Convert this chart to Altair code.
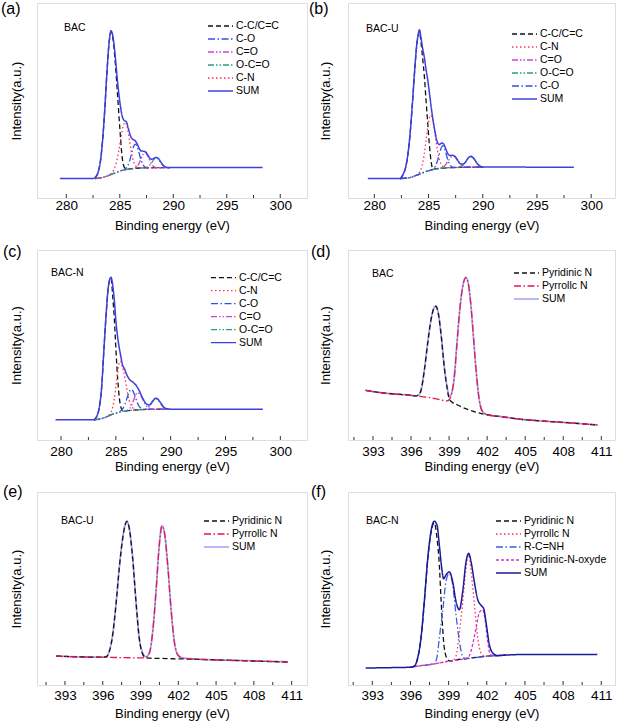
import altair as alt
import pandas as pd

FONT = "Liberation Sans"

# ---------------- (a) BAC, C 1s ----------------
A_SUM = [(279.4, 10.0), (282.5, 10.0), (282.8, 11.2), (283.0, 13.7), (283.2, 19.4), (283.4, 30.1), (283.6, 45.9),
         (283.8, 64.6), (284.0, 79.7), (284.18, 85.8), (284.4, 81.4), (284.6, 71.2), (284.8, 59.0), (285.0, 49.5),
         (285.2, 42.5), (285.4, 39.8), (285.6, 39.2), (285.8, 35.6), (286.0, 31.8), (286.2, 30.1), (286.4, 29.6),
         (286.6, 28.0), (286.8, 25.6), (287.0, 24.1), (287.2, 24.0), (287.4, 23.7), (287.6, 22.2), (287.8, 20.4),
         (288.0, 19.9), (288.2, 20.4), (288.4, 20.8), (288.6, 20.3), (288.8, 18.7), (289.0, 17.1), (289.2, 16.1),
         (289.4, 15.7), (289.7, 15.6), (298.35, 15.6)]
A_CC = [(282.7, 10.4), (283.0, 13.6), (283.2, 19.3), (283.4, 30.0), (283.6, 45.8), (283.8, 64.5), (284.0, 79.6),
        (284.18, 85.1), (284.4, 80.0), (284.6, 67.6), (284.8, 52.2), (285.0, 36.0), (285.2, 22.0), (285.4, 16.0),
        (285.6, 14.8), (285.9, 14.9), (286.4, 15.2), (287.0, 15.4), (288.0, 15.5), (289.0, 15.6), (289.7, 15.6)]
A_CO = [(282.7, 10.0), (283.4, 10.5), (284.2, 12.1), (285.0, 13.8), (285.37, 14.5), (285.55, 15.1), (285.73, 16.5),
        (285.91, 18.9), (286.09, 22.5), (286.27, 26.1), (286.45, 27.6), (286.63, 26.2), (286.81, 22.9),
        (286.99, 19.4), (287.17, 17.1), (287.35, 15.9), (287.53, 15.6), (288.5, 15.55), (289.7, 15.6)]
A_CDO = [(282.7, 10.0), (283.4, 10.5), (284.2, 12.1), (285.0, 13.8), (285.8, 14.8), (286.27, 15.2), (286.45, 15.5),
         (286.63, 16.4), (286.81, 17.9), (286.99, 20.2), (287.17, 22.4), (287.35, 23.3), (287.53, 22.4),
         (287.71, 20.3), (287.89, 18.1), (288.07, 16.6), (288.25, 15.85), (288.43, 15.6), (289.7, 15.6)]
A_OCO = [(282.7, 10.0), (283.4, 10.5), (284.2, 12.1), (285.0, 13.8), (285.8, 14.8), (286.6, 15.3), (287.32, 15.45),
         (287.5, 15.7), (287.68, 16.2), (287.86, 17.2), (288.04, 18.6), (288.22, 20.0), (288.4, 20.6),
         (288.58, 20.1), (288.76, 18.7), (288.94, 17.3), (289.12, 16.2), (289.3, 15.8), (289.48, 15.6), (289.7, 15.6)]
A_CN = [(282.7, 10.0), (283.4, 10.5), (283.8, 11.1), (284.1, 12.0), (284.4, 14.0), (284.7, 18.7), (284.9, 24.1),
        (285.1, 30.7), (285.3, 36.5), (285.5, 38.9), (285.7, 36.2), (285.9, 29.7), (286.1, 22.9), (286.3, 18.5),
        (286.5, 16.4), (286.7, 15.6), (287.5, 15.5), (288.5, 15.55), (289.7, 15.6)]

# ---------------- (b) BAC-U, C 1s ----------------
B_SUM = [(279.4, 10.0), (282.4, 10.0), (282.6, 11.6), (282.9, 16.1), (283.1, 22.7), (283.3, 33.1), (283.5, 47.6),
         (283.7, 63.8), (283.9, 78.0), (284.05, 84.0), (284.16, 86.3), (284.3, 82.3), (284.45, 76.9), (284.62, 71.9),
         (284.77, 65.8), (284.93, 60.4), (285.08, 54.0), (285.23, 47.2), (285.39, 40.8), (285.6, 33.9), (285.8, 28.8),
         (286.0, 27.4), (286.15, 28.0), (286.3, 28.2), (286.45, 27.1), (286.6, 25.0), (286.8, 22.5), (287.0, 21.8),
         (287.2, 21.9), (287.4, 21.5), (287.6, 20.2), (287.8, 18.4), (288.0, 17.4), (288.2, 17.4), (288.4, 18.4),
         (288.6, 20.1), (288.75, 21.0), (288.9, 21.4), (289.05, 21.0), (289.2, 20.1), (289.4, 18.4), (289.6, 17.0),
         (289.8, 16.2), (290.0, 15.9), (298.4, 15.8)]
B_CC = [(282.4, 10.0), (282.6, 11.5), (282.9, 16.0), (283.1, 22.6), (283.3, 33.0), (283.5, 47.5), (283.7, 63.7),
        (283.9, 77.6), (284.05, 83.5), (284.16, 85.3), (284.3, 80.0), (284.45, 72.0), (284.62, 62.0), (284.77, 50.0),
        (284.93, 38.0), (285.08, 27.0), (285.23, 19.0), (285.39, 15.0), (285.6, 14.9), (286.0, 15.2), (287.0, 15.55),
        (288.0, 15.7), (289.0, 15.8), (290.0, 15.8)]
B_CN = [(282.4, 10.0), (283.2, 10.4), (283.8, 11.3), (284.0, 12.2), (284.2, 13.5), (284.4, 16.5), (284.6, 22.4),
        (284.8, 30.7), (285.0, 38.9), (285.2, 42.5), (285.41, 39.5), (285.62, 31.9), (285.83, 24.2), (286.04, 19.0),
        (286.25, 16.5), (286.46, 15.7), (287.0, 15.55), (288.5, 15.75), (290.0, 15.8)]
B_CO = [(282.4, 10.0), (283.2, 10.4), (284.0, 11.9), (284.8, 13.6), (285.31, 14.6), (285.48, 15.2), (285.64, 16.4),
        (285.8, 18.7), (285.97, 22.1), (286.14, 25.3), (286.3, 26.8), (286.47, 25.5), (286.63, 22.4), (286.8, 19.2),
        (286.96, 17.1), (287.13, 16.05), (287.29, 15.7), (288.5, 15.75), (290.0, 15.8)]
B_CDO = [(282.4, 10.0), (283.2, 10.4), (284.0, 11.9), (284.8, 13.6), (285.6, 14.8), (285.99, 15.25), (286.2, 15.55),
         (286.41, 16.2), (286.62, 17.4), (286.83, 19.1), (287.04, 20.85), (287.25, 21.6), (287.46, 20.9),
         (287.67, 19.25), (287.88, 17.6), (288.09, 16.5), (288.3, 15.95), (288.51, 15.8), (290.0, 15.8)]
B_OCO = [(282.4, 10.0), (283.2, 10.4), (284.0, 11.9), (284.8, 13.6), (285.6, 14.8), (286.6, 15.45), (287.7, 15.7),
         (287.9, 15.95), (288.1, 16.45), (288.3, 17.5), (288.5, 19.0), (288.7, 20.6), (288.9, 21.2), (289.1, 20.6),
         (289.3, 19.1), (289.5, 17.55), (289.7, 16.55), (289.9, 16.05), (290.1, 15.85)]

# ---------------- (c) BAC-N, C 1s ----------------
C_SUM = [(279.5, 10.6), (283.0, 10.6), (283.1, 11.0), (283.3, 13.0), (283.5, 17.5), (283.7, 27.5), (283.9, 46.5),
         (284.1, 65.0), (284.3, 80.0), (284.45, 84.8), (284.56, 85.6), (284.71, 81.7), (284.86, 73.6), (285.02, 61.6),
         (285.17, 53.8), (285.32, 48.2), (285.47, 43.5), (285.6, 39.7), (285.8, 37.3), (286.0, 34.3), (286.23, 32.0),
         (286.54, 30.5), (286.84, 28.8), (287.14, 25.9), (287.45, 22.0), (287.75, 19.2), (288.05, 18.4),
         (288.36, 20.5), (288.65, 22.0), (288.95, 20.7), (289.12, 19.3), (289.35, 17.4), (289.57, 16.6),
         (289.8, 16.3), (290.1, 16.2), (298.4, 16.2)]
C_CC = [(283.0, 10.6), (283.1, 11.0), (283.3, 13.0), (283.5, 17.4), (283.7, 27.4), (283.9, 46.4), (284.1, 64.9),
        (284.3, 79.8), (284.45, 84.3), (284.56, 85.0), (284.71, 76.0), (284.86, 64.0), (285.02, 46.0), (285.17, 32.0),
        (285.32, 22.0), (285.47, 17.0), (285.62, 15.3), (285.8, 15.2), (286.3, 15.6), (287.2, 15.95), (288.0, 16.1),
        (289.0, 16.2), (289.8, 16.2)]
C_CN = [(283.0, 10.6), (283.5, 10.9), (283.9, 11.6), (284.3, 12.6), (284.5, 14.0), (284.71, 17.2), (284.86, 21.7),
        (285.02, 28.8), (285.17, 35.7), (285.32, 40.9), (285.41, 41.5), (285.6, 38.3), (285.8, 33.7), (286.0, 26.8),
        (286.23, 20.65), (286.54, 16.95), (286.84, 16.0), (287.2, 15.95), (288.0, 16.1), (289.0, 16.2), (289.8, 16.2)]
C_CO = [(283.0, 10.6), (283.9, 11.6), (284.7, 13.6), (285.26, 14.6), (285.45, 15.35), (285.64, 16.55), (285.83, 18.85),
        (286.02, 22.1), (286.21, 25.2), (286.4, 26.65), (286.59, 25.45), (286.78, 22.5), (286.97, 19.5),
        (287.16, 17.45), (287.35, 16.5), (287.54, 16.1), (288.5, 16.15), (289.8, 16.2)]
C_CDO = [(283.0, 10.6), (283.9, 11.6), (284.7, 13.6), (285.5, 14.9), (285.94, 15.4), (286.11, 15.85), (286.29, 16.8),
         (286.46, 18.6), (286.64, 21.3), (286.81, 23.75), (286.99, 24.9), (287.21, 23.85), (287.44, 21.5),
         (287.66, 18.95), (287.89, 17.25), (288.11, 16.5), (288.34, 16.25), (289.8, 16.2)]
C_OCO = [(283.0, 10.6), (283.9, 11.6), (284.7, 13.6), (285.5, 14.9), (286.3, 15.6), (287.2, 15.95), (287.51, 16.06),
         (287.7, 16.3), (287.89, 16.8), (288.08, 17.9), (288.27, 19.5), (288.46, 21.0), (288.65, 21.7),
         (288.84, 21.05), (289.03, 19.55), (289.22, 18.0), (289.41, 16.95), (289.6, 16.45), (289.79, 16.25),
         (290.0, 16.2)]

# ---------------- (d) BAC, N 1s ----------------
D_SUM = [(392.42, 26.1), (393.63, 24.9), (394.68, 24.2), (395.74, 23.7), (396.39, 23.2), (396.6, 23.8), (396.79, 26.3),
         (397.05, 36.8), (397.31, 50.9), (397.57, 63.2), (397.79, 69.3), (397.94, 70.5), (398.15, 66.7),
         (398.36, 56.1), (398.62, 38.6), (398.84, 28.1), (399.02, 22.8), (399.2, 24.6), (399.41, 33.3), (399.62, 50.9),
         (399.84, 68.4), (400.07, 80.7), (400.33, 85.6), (400.51, 82.5), (400.73, 70.2), (400.94, 52.6),
         (401.15, 35.1), (401.38, 21.1), (401.65, 14.9), (402.05, 13.2), (403.1, 12.3), (404.67, 10.9),
         (406.35, 10.0), (409.0, 8.8), (410.7, 7.9)]
D_PYRI = [(392.42, 26.1), (393.63, 24.9), (394.68, 24.2), (395.74, 23.7), (396.39, 23.2), (396.6, 23.7), (396.79, 26.2),
          (397.05, 36.7), (397.31, 50.8), (397.57, 63.1), (397.79, 69.2), (397.94, 70.4), (398.15, 66.6),
          (398.36, 56.0), (398.62, 38.4), (398.84, 27.4), (399.02, 21.5), (399.2, 20.1), (399.67, 18.4),
          (400.46, 16.1), (401.25, 14.4), (401.78, 13.5), (402.05, 13.2), (403.1, 12.3), (404.67, 10.9),
          (406.35, 10.0), (409.0, 8.8), (410.7, 7.9)]
D_PYRR = [(392.42, 26.1), (393.63, 24.9), (394.68, 24.2), (395.74, 23.7), (396.39, 23.2), (397.31, 22.5), (398.36, 21.1),
          (398.84, 20.6), (399.02, 21.3), (399.2, 24.4), (399.41, 33.2), (399.62, 50.8), (399.84, 68.3),
          (400.07, 80.6), (400.33, 85.5), (400.51, 82.4), (400.73, 70.1), (400.94, 52.5), (401.15, 35.0),
          (401.38, 21.0), (401.65, 14.8), (402.05, 13.2), (403.1, 12.3), (404.67, 10.9), (406.35, 10.0),
          (409.0, 8.8), (410.7, 7.9)]

# ---------------- (e) BAC-U, N 1s ----------------
E_SUM = [(392.29, 15.0), (394.01, 14.6), (395.6, 14.4), (396.26, 14.7), (396.52, 17.5), (396.79, 26.1), (397.05, 41.6),
         (397.31, 60.5), (397.58, 75.9), (397.77, 82.8), (397.92, 84.9), (398.11, 81.1), (398.38, 65.6),
         (398.64, 43.3), (398.9, 24.4), (399.17, 16.6), (399.43, 14.6), (399.7, 16.6), (399.97, 27.8), (400.23, 48.5),
         (400.49, 72.5), (400.7, 82.5), (400.89, 79.4), (401.16, 62.2), (401.42, 39.8), (401.68, 22.7),
         (401.95, 15.8), (402.35, 14.1), (403.54, 13.4), (407.0, 12.7), (410.69, 12.0)]
E_PYRI = [(392.29, 15.0), (394.01, 14.6), (395.6, 14.4), (396.26, 14.6), (396.52, 17.4), (396.79, 26.0), (397.05, 41.5),
          (397.31, 60.4), (397.58, 75.8), (397.77, 82.7), (397.92, 84.8), (398.11, 81.0), (398.38, 65.5),
          (398.64, 43.2), (398.9, 24.2), (399.17, 16.0), (399.43, 14.1), (399.7, 13.9), (400.5, 13.8), (401.5, 13.6),
          (402.35, 13.5), (403.54, 13.3), (407.0, 12.6), (410.69, 11.9)]
E_PYRR = [(392.29, 15.0), (394.01, 14.6), (395.6, 14.4), (396.5, 14.3), (397.5, 14.2), (398.5, 14.1), (399.17, 14.1),
          (399.43, 14.3), (399.7, 16.5), (399.97, 27.7), (400.23, 48.4), (400.49, 72.4), (400.7, 82.4),
          (400.89, 79.3), (401.16, 62.1), (401.42, 39.7), (401.68, 22.6), (401.95, 15.6), (402.35, 13.8),
          (403.54, 13.3), (407.0, 12.6), (410.69, 11.9)]

# ---------------- (f) BAC-N, N 1s ----------------
F_SUM = [(392.48, 8.8), (394.5, 9.0), (396.0, 9.2), (396.31, 9.8), (396.57, 14.1), (396.83, 24.4), (397.09, 43.3),
         (397.36, 65.6), (397.61, 79.4), (397.87, 84.9), (398.09, 82.8), (398.27, 72.5), (398.46, 60.5),
         (398.61, 55.0), (398.79, 57.0), (399.05, 58.6), (399.32, 53.6), (399.58, 43.3), (399.84, 39.0),
         (400.11, 48.5), (400.37, 63.9), (400.58, 68.2), (400.76, 64.0), (401.02, 53.5), (401.29, 44.2),
         (401.55, 41.3), (401.76, 39.5), (401.94, 32.5), (402.2, 21.0), (402.47, 16.6), (402.86, 15.2),
         (403.5, 15.5), (405.0, 15.8), (410.69, 15.8)]
F_PYRI = [(396.0, 9.2), (396.31, 9.8), (396.57, 14.0), (396.83, 24.2), (397.09, 43.0), (397.36, 65.2), (397.61, 78.8),
          (397.87, 84.0), (398.09, 75.9), (398.27, 62.2), (398.4, 45.0), (398.53, 29.5), (398.66, 19.2),
          (398.92, 13.2), (399.13, 12.4), (399.6, 13.0), (400.5, 13.8), (401.5, 14.6), (402.5, 15.2), (403.5, 15.5)]
F_PYRR = [(396.0, 9.2), (397.0, 10.2), (398.0, 11.1), (399.0, 12.4), (399.45, 13.4), (399.65, 17.0), (399.84, 27.0),
          (400.11, 43.0), (400.37, 60.5), (400.58, 67.4), (400.76, 59.5), (401.02, 42.4), (401.29, 24.4),
          (401.55, 16.5), (401.81, 15.0), (402.5, 15.2), (403.5, 15.5)]
F_RCNH = [(396.0, 9.2), (396.6, 9.8), (397.2, 10.3), (397.87, 11.0), (398.1, 15.0), (398.27, 24.4), (398.53, 38.1),
          (398.79, 53.6), (399.05, 57.9), (399.32, 51.9), (399.58, 36.4), (399.84, 23.0), (400.11, 14.6),
          (400.37, 13.6), (401.0, 14.1), (402.0, 14.9), (403.5, 15.5)]
F_NOX = [(396.0, 9.2), (397.0, 10.2), (398.0, 11.1), (399.0, 12.4), (400.0, 13.3), (400.5, 14.1), (400.76, 17.5),
         (400.89, 21.0), (401.16, 29.5), (401.42, 37.6), (401.68, 39.0), (401.86, 34.3), (402.07, 22.7),
         (402.28, 15.8), (402.6, 15.2), (403.5, 15.5)]

# tick values
C_MAJOR = [280, 285, 290, 295, 300]
C_MINOR = [282.5, 287.5, 292.5, 297.5]
N_MAJOR = [393, 396, 399, 402, 405, 408, 411]
N_MINOR = [391.5, 394.5, 397.5, 400.5, 403.5, 406.5, 409.5]

# styles
BLACK = "#111111"
DASHED = [5, 3]
DOTTED = [1.5, 2.5]
DASHDOT = [7, 2.5, 1.5, 2.5]
DASHDOTDOT = [6, 2, 1.5, 2, 1.5, 2]
SHORTDASH = [3, 2]
SOLID = [1, 0]


def to_df(named):
    rows = []
    for name, pts in named:
        for i, (x, y) in enumerate(pts):
            rows.append({"x": x, "y": y, "series": name, "i": i})
    return pd.DataFrame(rows)


def make_panel(letter, sample, comps, total, styles, order, xdom, major, minor, w, h,
               legend_xy, letter_xy, sample_xy, ytp, xlp, xtp, sum_width, sum_on_top):
    xscale = alt.Scale(domain=xdom, nice=False, zero=False)
    xaxis = alt.Axis(values=major, format="d", title="Binding energy (eV)", grid=False, domain=False,
                     ticks=False, labelFont=FONT, labelFontSize=13.5, labelColor="black",
                     labelPadding=xlp, labelFlush=False, labelOverlap=False, titleFont=FONT,
                     titleFontSize=13, titleFontWeight="normal", titleColor="black", titlePadding=xtp)
    yscale = alt.Scale(domain=[0, 100], nice=False, zero=False)
    yaxis = alt.Axis(labels=False, ticks=False, domain=False, grid=False, title="Intensity(a.u.)",
                     titleFont=FONT, titleFontSize=13, titleFontWeight="normal", titleColor="black",
                     titlePadding=ytp, minExtent=0)

    def X():
        return alt.X("x:Q", scale=xscale, axis=xaxis)

    def Y():
        return alt.Y("y:Q", scale=yscale, axis=yaxis)

    legend = alt.Legend(title=None, orient="none", legendX=legend_xy[0], legendY=legend_xy[1], padding=0,
                        symbolType="M-2.5,0H2.5", symbolSize=100, symbolStrokeWidth=1.3,
                        labelFont=FONT, labelFontSize=10.5, labelColor="black", labelOffset=9.5,
                        rowPadding=1, labelLimit=300)
    color = alt.Color("series:N", scale=alt.Scale(domain=order, range=[styles[n][0] for n in order]),
                      legend=legend)
    dash = alt.StrokeDash("series:N", scale=alt.Scale(domain=order, range=[styles[n][1] for n in order]),
                          legend=legend)

    comp_layer = alt.Chart(to_df(comps)).mark_line(interpolate="monotone", strokeWidth=1.3).encode(
        x=X(), y=Y(), color=color, strokeDash=dash, order="i:Q")
    sum_layer = alt.Chart(to_df([("SUM", total)])).mark_line(
        interpolate="monotone", strokeWidth=sum_width).encode(
        x=X(), y=Y(), color=color, strokeDash=dash, order="i:Q")

    maj = alt.Chart(pd.DataFrame({"x": major})).mark_rule(color="#333333", strokeWidth=1).encode(
        x=X(), y=alt.value(h), y2=alt.value(h - 4))
    mnr = alt.Chart(pd.DataFrame({"x": minor})).mark_rule(color="#333333", strokeWidth=1).encode(
        x=X(), y=alt.value(h), y2=alt.value(h - 3))

    lab = alt.Chart(pd.DataFrame({"t": ["(" + letter + ")"]})).mark_text(
        align="left", baseline="middle", font=FONT, fontSize=16, color="black").encode(
        x=alt.value(letter_xy[0]), y=alt.value(letter_xy[1]), text="t:N")
    smp = alt.Chart(pd.DataFrame({"t": [sample]})).mark_text(
        align="left", baseline="middle", font=FONT, fontSize=10.5, color="black").encode(
        x=alt.value(sample_xy[0]), y=alt.value(sample_xy[1]), text="t:N")

    lines = [comp_layer, sum_layer] if sum_on_top else [sum_layer, comp_layer]
    return alt.layer(*lines, maj, mnr, lab, smp).properties(width=w, height=h)


C_STYLES_A = {
    "C-C/C=C": (BLACK, DASHED), "C-O": ("#2f50e8", DASHDOT), "C=O": ("#cc44cc", DASHDOTDOT),
    "O-C=O": ("#2a9d80", DASHDOTDOT), "C-N": ("#ff3355", DOTTED), "SUM": ("#3f3fe0", SOLID)}

pa = make_panel("a", "BAC",
                [("C-C/C=C", A_CC), ("C-O", A_CO), ("C=O", A_CDO), ("O-C=O", A_OCO), ("C-N", A_CN)],
                A_SUM, C_STYLES_A, ["C-C/C=C", "C-O", "C=O", "O-C=O", "C-N", "SUM"],
                [277.26, 302.5], C_MAJOR, C_MINOR, 270, 195,
                (177.5, 17), (-36, 6.3), (27, 25), 14, 0, 7.5, 1.5, True)
pb = make_panel("b", "BAC-U",
                [("C-C/C=C", B_CC), ("C-N", B_CN), ("C=O", B_CDO), ("O-C=O", B_OCO), ("C-O", B_CO)],
                B_SUM, C_STYLES_A, ["C-C/C=C", "C-N", "C=O", "O-C=O", "C-O", "SUM"],
                [277.57, 302.2], C_MAJOR, C_MINOR, 267, 195,
                (170.5, 25), (-39, 6.3), (18, 26), 16, 0, 7.5, 1.5, True)
pc = make_panel("c", "BAC-N",
                [("C-C/C=C", C_CC), ("C-N", C_CN), ("C-O", C_CO), ("C=O", C_CDO), ("O-C=O", C_OCO)],
                C_SUM, C_STYLES_A, ["C-C/C=C", "C-N", "C-O", "C=O", "O-C=O", "SUM"],
                [277.81, 302.43], C_MAJOR, C_MINOR, 270, 190,
                (180.5, 21.7), (-34, 1.8), (14, 23), 14, 4, 3, 1.5, True)

N_STYLES_DE = {"Pyridinic N": (BLACK, DASHED), "Pyrrollc N": ("#e8174a", DASHDOT), "SUM": ("#a3a3f0", SOLID)}
pd_ = make_panel("d", "BAC", [("Pyridinic N", D_PYRI), ("Pyrrollc N", D_PYRR)], D_SUM, N_STYLES_DE,
                 ["Pyridinic N", "Pyrrollc N", "SUM"], [391.03, 412.08], N_MAJOR, N_MINOR, 267, 190,
                 (172.5, 17), (-37, 1.8), (24, 23.5), 16, 4, 3, 1.8, False)
pe = make_panel("e", "BAC-U", [("Pyridinic N", E_PYRI), ("Pyrrollc N", E_PYRR)], E_SUM, N_STYLES_DE,
                ["Pyridinic N", "Pyrrollc N", "SUM"], [390.78, 412.22], N_MAJOR, N_MINOR, 270, 193,
                (173.5, 23), (-34, -0.2), (24, 29), 14, 3, 5.5, 1.8, False)

N_STYLES_F = {"Pyridinic N": (BLACK, DASHED), "Pyrrollc N": ("#ff3355", DOTTED), "R-C=NH": ("#3d5fe0", DASHDOT),
              "Pyridinic-N-oxyde": ("#cc33cc", SHORTDASH), "SUM": ("#1a1a9a", SOLID)}
pf = make_panel("f", "BAC-N",
                [("Pyridinic N", F_PYRI), ("Pyrrollc N", F_PYRR), ("R-C=NH", F_RCNH), ("Pyridinic-N-oxyde", F_NOX)],
                F_SUM, N_STYLES_F, ["Pyridinic N", "Pyrrollc N", "R-C=NH", "Pyridinic-N-oxyde", "SUM"],
                [391.09, 412.08], N_MAJOR, N_MINOR, 267, 193,
                (154.5, 23), (-37, -0.2), (18, 29), 16, 3, 5.5, 1.5, True)

chart = alt.concat(pa, pb, pc, pd_, pe, pf, columns=2, spacing={"row": 52, "column": 41},
                   bounds="flush").resolve_scale(
    x="independent", y="independent", color="independent", strokeDash="independent").resolve_legend(
    color="independent", strokeDash="independent").properties(
    padding=0).configure_view(stroke="#333333", strokeWidth=1).configure(font=FONT)

chart.save("out.html", embed_options={"renderer": "svg", "actions": False})
